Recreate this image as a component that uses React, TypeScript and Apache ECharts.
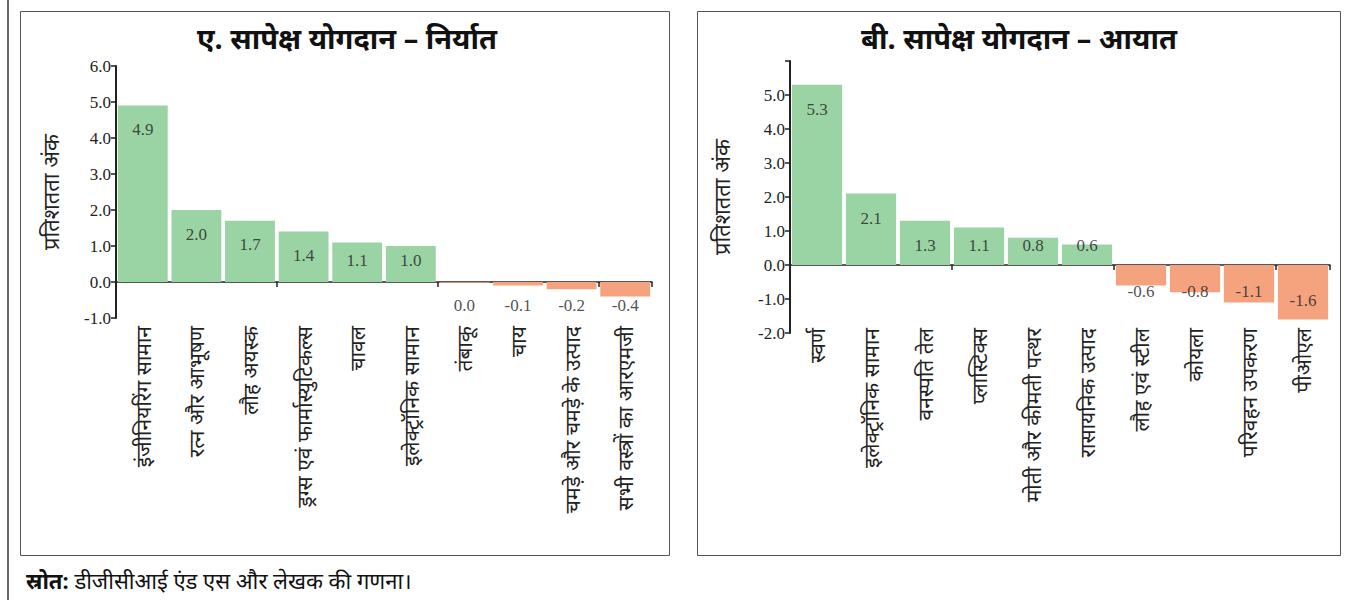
import React, { useEffect, useRef } from "react";
import * as echarts from "echarts";

const exportCategories = [
  "इंजीनियरिंग सामान",
  "रत्न और आभूषण",
  "लौह अयस्क",
  "ड्रग्स एवं फार्मास्युटिकल्स",
  "चावल",
  "इलेक्ट्रॉनिक सामान",
  "तंबाकू",
  "चाय",
  "चमड़े और चमड़े के उत्पाद",
  "सभी वस्त्रों का आरएमजी",
];
const exportValues = [4.9, 2.0, 1.7, 1.4, 1.1, 1.0, -0.02, -0.1, -0.2, -0.4];

const importCategories = [
  "स्वर्ण",
  "इलेक्ट्रॉनिक सामान",
  "वनस्पति तेल",
  "प्लास्टिक्स",
  "मोती और कीमती पत्थर",
  "रासायनिक उत्पाद",
  "लौह एवं स्टील",
  "कोयला",
  "परिवहन उपकरण",
  "पीओएल",
];
const importValues = [5.3, 2.1, 1.3, 1.1, 0.8, 0.6, -0.6, -0.8, -1.1, -1.6];

const exportTicks = { min: -1, max: 6, interval: 1 };
const importTicks = { min: -2, max: 6, interval: 1 };

const titleExport = "ए. सापेक्ष योगदान – निर्यात";
const titleImport = "बी. सापेक्ष योगदान – आयात";
const yAxisName = "प्रतिशतता अंक";
const sourceBold = "स्रोत:";
const sourceText = " डीजीसीआई एंड एस और लेखक की गणना।";

const GREEN = "#9AD3A4";
const ORANGE = "#F5A27F";
const SERIF = '"Liberation Serif", "Times New Roman", serif';
const SANS = '"Noto Sans", "Liberation Sans", sans-serif';

const fmt = (v: number) => {
  const r = Math.round(v * 10) / 10;
  return (r === 0 ? 0 : r).toFixed(1);
};

export default function App() {
  const ref = useRef<HTMLDivElement>(null);
  useEffect(() => {
    if (!ref.current) return;
    const chart = echarts.init(ref.current, null, { renderer: "svg" });

    const barData = (vals: number[]) =>
      vals.map((v) => ({ value: v, itemStyle: { color: v >= 0 ? GREEN : ORANGE } }));

    // label anchor positions (in axis units) for the value labels
    const exportLabelPos = exportValues.map((v, i) => [
      i,
      v > 0 ? Math.max(v - 0.67, 0.61) : -0.64,
      v,
    ]);
    const importLabelPos = importValues.map((v, i) => [
      i,
      v > 0 ? Math.max(v - 0.74, 0.56) : Math.min(-0.78, v + 0.55),
      v,
    ]);

    const labelSeries = (xIdx: number, yIdx: number, data: number[][]) => ({
      type: "scatter",
      xAxisIndex: xIdx,
      yAxisIndex: yIdx,
      symbolSize: 1,
      itemStyle: { color: "rgba(0,0,0,0)" },
      silent: true,
      z: 5,
      label: {
        show: true,
        position: "inside",
        formatter: (p: any) => fmt(p.value[2]),
        fontFamily: SERIF,
        fontSize: 17,
        color: "#222",
      },
      data,
    });

    const zeroAxis = (gridIndex: number, cats: string[]) => ({
      type: "category",
      gridIndex,
      position: "bottom",
      data: cats,
      axisLine: { show: true, onZero: true, lineStyle: { color: "#222", width: 1.5 } },
      axisTick: { show: true, length: 5, lineStyle: { color: "#222", width: 1.5 } },
      axisLabel: { show: false },
      splitLine: { show: false },
    });
    const labelAxis = (gridIndex: number, cats: string[], margin: number) => ({
      type: "category",
      gridIndex,
      position: "bottom",
      data: cats,
      axisLine: { show: false, onZero: false },
      axisTick: { show: false },
      axisLabel: {
        show: true,
        rotate: 90,
        interval: 0,
        margin,
        fontFamily: SANS,
        fontSize: 21,
        color: "#222",
      },
      splitLine: { show: false },
    });
    const valueAxis = (gridIndex: number, t: any, nameGap: number, hideTop: boolean) => ({
      type: "value",
      gridIndex,
      min: t.min,
      max: t.max,
      interval: t.interval,
      name: yAxisName,
      nameLocation: "middle",
      nameRotate: 90,
      nameGap,
      nameTextStyle: { fontFamily: SANS, fontSize: 22, color: "#222" },
      axisLine: { show: true, lineStyle: { color: "#222", width: 2 } },
      axisTick: { show: true, length: 5, inside: false, lineStyle: { color: "#222", width: 1.5 } },
      axisLabel: {
        fontFamily: SERIF,
        fontSize: 17,
        color: "#222",
        margin: 5,
        formatter: (v: number) => (hideTop && v === t.max ? "" : v.toFixed(1)),
      },
      splitLine: { show: false },
    });

    chart.setOption({
      animation: false,
      backgroundColor: "#fff",
      grid: [
        { left: 116, top: 66, width: 536, height: 252 },
        { left: 790, top: 61, width: 540, height: 272 },
      ],
      xAxis: [
        zeroAxis(0, exportCategories),
        labelAxis(0, exportCategories, 8),
        zeroAxis(1, importCategories),
        labelAxis(1, importCategories, -5),
      ],
      yAxis: [valueAxis(0, exportTicks, 55, false), valueAxis(1, importTicks, 58, true)],
      series: [
        {
          type: "bar",
          xAxisIndex: 0,
          yAxisIndex: 0,
          barCategoryGap: "7%",
          data: barData(exportValues),
        },
        labelSeries(0, 0, exportLabelPos),
        {
          type: "bar",
          xAxisIndex: 2,
          yAxisIndex: 1,
          barCategoryGap: "7%",
          data: barData(importValues),
        },
        labelSeries(2, 1, importLabelPos),
      ],
      graphic: [
        {
          type: "line",
          shape: { x1: 8, y1: 0, x2: 8, y2: 600 },
          style: { stroke: "#333", lineWidth: 1.5 },
        },
        {
          type: "rect",
          shape: { x: 20.5, y: 11.5, width: 649, height: 544 },
          style: { fill: "none", stroke: "#555", lineWidth: 1 },
        },
        {
          type: "rect",
          shape: { x: 697.5, y: 11.5, width: 643, height: 544 },
          style: { fill: "none", stroke: "#555", lineWidth: 1 },
        },
        {
          type: "text",
          x: 347,
          y: 37,
          style: {
            text: titleExport,
            align: "center",
            verticalAlign: "middle",
            font: `bold 29px ${SANS}`,
            fill: "#111",
          },
        },
        {
          type: "text",
          x: 1019,
          y: 37,
          style: {
            text: titleImport,
            align: "center",
            verticalAlign: "middle",
            font: `bold 29px ${SANS}`,
            fill: "#111",
          },
        },
        {
          type: "text",
          x: 26,
          y: 580,
          style: {
            text: `{b|${sourceBold}}{r|${sourceText}}`,
            verticalAlign: "middle",
            rich: {
              b: { fontFamily: SANS, fontWeight: "bold", fontSize: 22, fill: "#111" },
              r: { fontFamily: SANS, fontSize: 22, fill: "#111" },
            },
          },
        },
      ],
    });
    return () => chart.dispose();
  }, []);
  return (
    <div
      ref={ref}
      style={{ position: "fixed", left: 0, top: 0, width: 1348, height: 600, background: "#fff" }}
    />
  );
}
